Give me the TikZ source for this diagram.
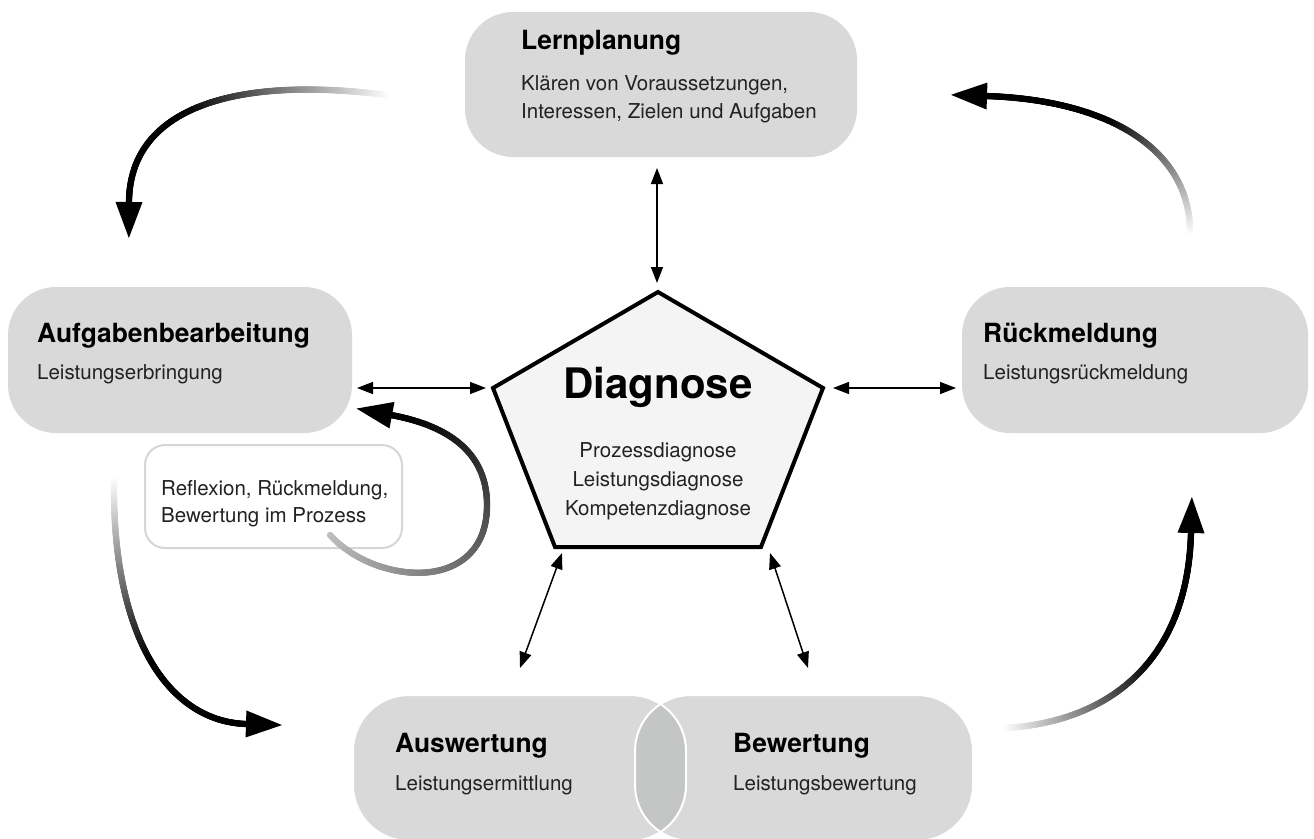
\documentclass[tikz,border=0pt]{standalone}
\usepackage{fontspec}
\setmainfont{TeX Gyre Heros}
\usetikzlibrary{arrows.meta,decorations.markings}
\definecolor{boxgray}{HTML}{D9D9D9}
\definecolor{lensgray}{HTML}{C4C6C5}
\definecolor{pentfill}{HTML}{F4F4F4}
\definecolor{refborder}{HTML}{D6D6D6}
\definecolor{bodytext}{HTML}{222222}
\newcommand\fadecurve[3]{%
  \path[decorate,decoration={markings,
    mark=between positions 0 and 1 step 0.7pt with {%
      \pgfmathsetmacro\fadefrac{(\pgfkeysvalueof{/pgf/decoration/mark info/distance from start})/(#3*\pgfdecoratedpathlength)}%
      \pgfmathsetmacro\fadeval{max(0,min(100,#2+\fadefrac*(100-#2)))}%
      \fill[black!\fadeval] (0pt,0pt) circle[radius=3.2pt];}}] #1;
  \path[decorate,decoration={markings,
    mark=at position -0.5pt with {\fill[black] (-0.5pt,-13.5pt) -- (35.5pt,0pt) -- (-0.5pt,13.5pt) -- cycle;}}] #1;
}
\begin{document}
\begin{tikzpicture}[x=1pt,y=-1pt,
  box/.style={fill=boxgray, draw=none, rounded corners=48pt, inner sep=0pt},
  title/.style={anchor=base west, inner sep=0pt, font=\fontsize{26.4}{30}\selectfont\bfseries},
  body/.style={anchor=base west, inner sep=0pt, text=bodytext, font=\fontsize{20.5}{24}\selectfont},
  cbody/.style={anchor=base, inner sep=0pt, text=bodytext, font=\fontsize{20.5}{24}\selectfont},
  dbl/.style={{Triangle[length=16pt,width=12pt]}-{Triangle[length=16pt,width=12pt]}, line width=1.5pt},
]
\useasboundingbox (0,0) rectangle (1314,838);

% main boxes
\node[box, minimum width=392pt, minimum height=145pt] (lern) at (661,84.5) {};
\node[box, minimum width=344pt, minimum height=146pt] (aufg) at (180,360) {};
\node[box, minimum width=346pt, minimum height=146pt] (rueck) at (1135,360) {};
\node[box, rounded corners=56pt, minimum width=333pt, minimum height=146pt] (ausw) at (519.5,768) {};
\node[box, rounded corners=56pt, minimum width=338pt, minimum height=146pt] (bewe) at (804,768) {};
\begin{scope}
  \clip[rounded corners=56pt] (353,695) rectangle (686,841);
  \fill[lensgray, rounded corners=56pt] (635,695) rectangle (973,841);
\end{scope}
\draw[white, line width=2pt, rounded corners=56pt] (353,695) rectangle (686,841);
\draw[white, line width=2pt, rounded corners=56pt] (635,695) rectangle (973,841);

% pentagon
\coordinate (pT) at (658,292);
\coordinate (pR) at (823,388);
\coordinate (pBR) at (761,547);
\coordinate (pBL) at (555,547);
\coordinate (pL) at (493,388);
\draw[line width=4pt, fill=pentfill, line join=miter] (pT) -- (pR) -- (pBR) -- (pBL) -- (pL) -- cycle;

% reflexion box
\node[draw=refborder, line width=2pt, fill=white, rounded corners=20pt, minimum width=257pt, minimum height=103pt, inner sep=0pt] (refl) at (273.5,496.5) {};

% double arrows
\coordinate (a1) at (657,168);  \coordinate (a2) at (657,283);
\coordinate (b1) at (357,388);  \coordinate (b2) at (486,388);
\coordinate (c1) at (833,388);  \coordinate (c2) at (956,388);
\coordinate (d1) at (562,553);  \coordinate (d2) at (520,668);
\coordinate (e1) at (770,553);  \coordinate (e2) at (808,668);
\draw[dbl] (a1) -- (a2);
\draw[dbl] (b1) -- (b2);
\draw[dbl] (c1) -- (c2);
\draw[dbl] (d1) -- (d2);
\draw[dbl] (e1) -- (e2);

% big fading arrows
\fadecurve{(387,95) .. controls (230,75) and (129,110) .. (129,203)}{0}{0.65}
\fadecurve{(1190,232) .. controls (1190,150) and (1110,100) .. (986,96)}{0}{0.55}
\fadecurve{(1005,728) .. controls (1110,722) and (1188,660) .. (1191,532)}{0}{0.55}
\fadecurve{(114,480) .. controls (112,640) and (170,722) .. (247,724)}{0}{0.6}
\fadecurve{(330,535) .. controls (375,585) and (487,595) .. (487,505) .. controls (487,450) and (445,425) .. (391,415)}{25}{0.95}

% texts
\node[title] (t1) at (521,49) {Lernplanung};
\node[body] (s1a) at (521,90) {Klären von Voraussetzungen,};
\node[body] (s1b) at (521,118) {Interessen, Zielen und Aufgaben};
\node[title] (t2) at (37,342) {Aufgabenbearbeitung};
\node[body] (s2) at (37,379) {Leistungserbringung};
\node[title] (t3) at (983,342) {Rückmeldung};
\node[body] (s3) at (983,379) {Leistungsrückmeldung};
\node[title] (t4) at (395,752) {Auswertung};
\node[body] (s4) at (395,790) {Leistungsermittlung};
\node[title] (t5) at (733,752) {Bewertung};
\node[body] (s5) at (733,790) {Leistungsbewertung};
\node[anchor=base, inner sep=0pt, font=\fontsize{42}{46}\selectfont\bfseries] (t6) at (658,398) {Diagnose};
\node[cbody] (s6a) at (658,457) {Prozessdiagnose};
\node[cbody] (s6b) at (658,486) {Leistungsdiagnose};
\node[cbody] (s6c) at (658,515) {Kompetenzdiagnose};
\node[body] (s7a) at (161,495) {Reflexion, Rückmeldung,};
\node[body] (s7b) at (161,522) {Bewertung im Prozess};
\end{tikzpicture}
\end{document}
